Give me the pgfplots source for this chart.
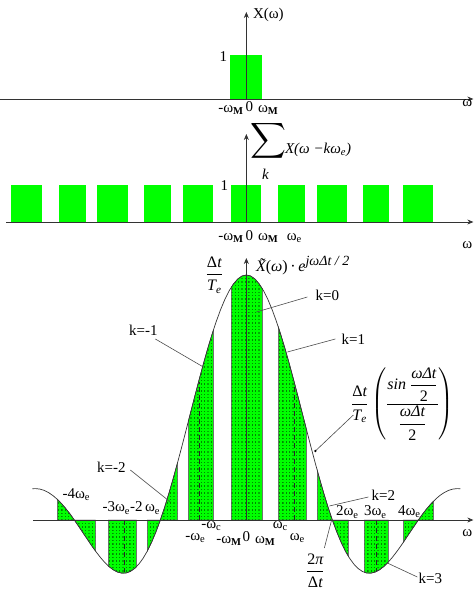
\documentclass[border=0pt]{standalone}
\usepackage{fontspec}
\setmainfont{Liberation Serif}
\usepackage{amsmath}
\usepackage{pgfplots}
\pgfplotsset{compat=1.18}
\usetikzlibrary{patterns,arrows.meta}

\definecolor{specgreen}{RGB}{0,255,0}
\definecolor{dotgreen}{RGB}{0,135,0}
\newcommand{\wM}{ω\textsubscript{\textbf{M}}}
\newcommand{\we}{ω\textsubscript{e}}

% small square dots on a regular grid
\pgfdeclarepatternformonly{sqdots}{\pgfqpoint{0pt}{0pt}}{\pgfqpoint{1.3pt}{1.3pt}}{\pgfqpoint{3.4pt}{3.4pt}}{%
  \pgfpathrectangle{\pgfqpoint{0pt}{0pt}}{\pgfqpoint{1.3pt}{1.3pt}}\pgfusepath{fill}}

\pgfplotsset{
  panel/.style={x=1pt, y=1pt, hide axis, clip=false, anchor=origin,
    enlargelimits=false, xmin=-246, xmax=229},
  axisline/.style={black!80, line width=0.7pt, -{Stealth[length=6pt,width=5pt]}},
  band/.style={fill=specgreen, draw=none},
  strip/.style={fill=specgreen, draw=black!60, line width=0.4pt,
    postaction={pattern=sqdots, pattern color=dotgreen}},
  vdash/.style={black!85, line width=0.7pt, dash pattern=on 5pt off 3pt},
}

\begin{document}
\begin{tikzpicture}[font=\fontsize{15}{17}\selectfont, every node/.style={inner sep=0.5pt}]
\path (0,0) rectangle (475pt,-599pt);

% ---------- spectrum of the band-limited signal ----------
\begin{axis}[panel, at={(246pt,-99pt)}, ymin=0, ymax=90]
  \addplot[band] coordinates {(-16,0) (-16,44) (16,44) (16,0)} -- cycle;
  \addplot[axisline] coordinates {(-246,0) (227,0)};
  \addplot[axisline] coordinates {(0,0) (0,87)};
\end{axis}

% ---------- periodised spectrum ----------
\begin{axis}[panel, at={(246pt,-222pt)}, ymin=0, ymax=90]
  \addplot[band] coordinates {(-235,0) (-235,37) (-204,37) (-204,0)} -- cycle;
  \addplot[band] coordinates {(-187,0) (-187,37) (-160,37) (-160,0)} -- cycle;
  \addplot[band] coordinates {(-149,0) (-149,37) (-118,37) (-118,0)} -- cycle;
  \addplot[band] coordinates {(-102,0) (-102,37) (-75,37) (-75,0)} -- cycle;
  \addplot[band] coordinates {(-63,0) (-63,37) (-33,37) (-33,0)} -- cycle;
  \addplot[band] coordinates {(-15,0) (-15,37) (15,37) (15,0)} -- cycle;
  \addplot[band] coordinates {(32,0) (32,37) (59,37) (59,0)} -- cycle;
  \addplot[band] coordinates {(71,0) (71,37) (101,37) (101,0)} -- cycle;
  \addplot[band] coordinates {(117,0) (117,37) (143,37) (143,0)} -- cycle;
  \addplot[band] coordinates {(157,0) (157,37) (187,37) (187,0)} -- cycle;
  \addplot[axisline] coordinates {(-240,0) (227,0)};
  \addplot[axisline] coordinates {(0,0) (0,88)};
\end{axis}

% ---------- sinc envelope with sampled bands ----------
\begin{axis}[panel, at={(246pt,-520pt)}, ymin=-60, ymax=265]
  % bands cut out under the envelope
  \addplot[strip] coordinates {(-189,0) (-189,20.7) (-184.9,16.5) (-180.6,11.5)
    (-176.3,6.0) (-172,0) (-167.7,-6.3) (-163.4,-12.7) (-159.1,-19.1)
    (-154.8,-25.5) (-151,-30.8) (-151,0)} -- cycle;
  \addplot[strip] coordinates {(-138,0) (-138,-46.0) (-133.3,-49.7) (-129,-52.0)
    (-124.7,-53.1) (-120.4,-53.0) (-116.1,-51.5) (-111.8,-48.5) (-110,-46.9)
    (-110,0)} -- cycle;
  \addplot[strip] coordinates {(-99,0) (-99,-31.0) (-94.6,-21.9) (-90.3,-11.6)
    (-86,0) (-81.7,12.8) (-77.4,26.8) (-73.1,41.7) (-69,56.6) (-69,0)} -- cycle;
  \addplot[strip] coordinates {(-58,0) (-58,98.7) (-55.9,106.9) (-51.6,123.6)
    (-47.3,140.0) (-43,156.0) (-38.7,171.2) (-34.4,185.4) (-33,189.8)
    (-33,0)} -- cycle;
  \addplot[strip] coordinates {(-15,0) (-15,232.9) (-12.9,236.0) (-8.6,241.0)
    (-4.3,244.0) (0,245) (4.3,244.0) (8.6,241.0) (12.9,236.0) (16,231.3)
    (16,0)} -- cycle;
  \addplot[strip] coordinates {(32,0) (32,192.9) (34.4,185.4) (38.7,171.2)
    (43,156.0) (47.3,140.0) (51.6,123.6) (55.9,106.9) (60,90.9) (60,0)} -- cycle;
  \addplot[strip] coordinates {(71,0) (71,49.2) (73.1,41.7) (77.4,26.8)
    (81.7,12.8) (86,0) (90.3,-11.6) (94.6,-21.9) (98.9,-30.8) (102,-36.3)
    (102,0)} -- cycle;
  \addplot[strip] coordinates {(118,0) (118,-52.3) (120.4,-53.0) (124.7,-53.1)
    (129,-52.0) (133.3,-49.7) (137.6,-46.4) (142,-42.0) (142,0)} -- cycle;
  \addplot[strip] coordinates {(157,0) (157,-22.3) (159.1,-19.1) (163.4,-12.7)
    (167.7,-6.3) (172,0) (176.3,6.0) (180.6,11.5) (184.9,16.5) (187,18.7)
    (187,0)} -- cycle;
  % centres of the shifted copies
  \addplot[vdash] coordinates {(-122,0) (-122,-52)};
  \addplot[vdash] coordinates {(-47,0) (-47,138)};
  \addplot[vdash] coordinates {(48,0) (48,136)};
  \addplot[vdash] coordinates {(130,0) (130,-51)};
  % envelope
  \addplot[black!80, line width=0.7pt] coordinates {
    (-214,31.3) (-210.7,31.4) (-206.4,30.9) (-202.1,29.6) (-197.8,27.4)
    (-193.5,24.5) (-189.2,20.8) (-184.9,16.5) (-180.6,11.5) (-176.3,6.0)
    (-172,0) (-167.7,-6.3) (-163.4,-12.7) (-159.1,-19.1) (-154.8,-25.5)
    (-150.5,-31.5) (-146.2,-37.1) (-141.9,-42.1) (-137.6,-46.4) (-133.3,-49.7)
    (-129,-52.0) (-124.7,-53.1) (-120.4,-53.0) (-116.1,-51.5) (-111.8,-48.5)
    (-107.5,-44.1) (-103.2,-38.2) (-98.9,-30.8) (-94.6,-21.9) (-90.3,-11.6)
    (-86,0) (-81.7,12.8) (-77.4,26.8) (-73.1,41.7) (-68.8,57.3)
    (-64.5,73.5) (-60.2,90.1) (-55.9,106.9) (-51.6,123.6) (-47.3,140.0)
    (-43,156.0) (-38.7,171.2) (-34.4,185.4) (-30.1,198.5) (-25.8,210.3)
    (-21.5,220.6) (-17.2,229.2) (-12.9,236.0) (-8.6,241.0) (-4.3,244.0)
    (0,245)
    (4.3,244.0) (8.6,241.0) (12.9,236.0) (17.2,229.2) (21.5,220.6)
    (25.8,210.3) (30.1,198.5) (34.4,185.4) (38.7,171.2) (43,156.0)
    (47.3,140.0) (51.6,123.6) (55.9,106.9) (60.2,90.1) (64.5,73.5)
    (68.8,57.3) (73.1,41.7) (77.4,26.8) (81.7,12.8) (86,0)
    (90.3,-11.6) (94.6,-21.9) (98.9,-30.8) (103.2,-38.2) (107.5,-44.1)
    (111.8,-48.5) (116.1,-51.5) (120.4,-53.0) (124.7,-53.1) (129,-52.0)
    (133.3,-49.7) (137.6,-46.4) (141.9,-42.1) (146.2,-37.1) (150.5,-31.5)
    (154.8,-25.5) (159.1,-19.1) (163.4,-12.7) (167.7,-6.3) (172,0)
    (176.3,6.0) (180.6,11.5) (184.9,16.5) (189.2,20.8) (193.5,24.5)
    (197.8,27.4) (202.1,29.6) (206.4,30.9) (210.7,31.4) (214,31.3)
  };
  \addplot[axisline] coordinates {(-213,0) (227,0)};
  \addplot[axisline] coordinates {(0,0) (0,262)};
\end{axis}

% ---------- labels and leaders ----------
\begin{scope}[x=1pt, y=-1pt]
  % top panel
  \node at (268,15) {X(ω)};
  \node at (223,57) {1};
  \node[anchor=east] at (244,110) {-\wM};
  \node at (249,107) {0};
  \node[anchor=west] at (257,110) {\wM};
  \node at (467,103) {ω};
  % middle panel
  \node at (224,186) {1};
  \node at (268,141) {\fontsize{26}{26}\selectfont$\displaystyle\sum$};
  \node[anchor=west] at (284,150) {\itshape X(ω −kω\textsubscript{e})};
  \node at (265,174) {\itshape k};
  \node[anchor=east] at (244,238) {-\wM};
  \node at (249,236) {0};
  \node[anchor=west] at (257,238) {\wM};
  \node at (294,238) {\we};
  \node at (467,245) {ω};
  % bottom panel
  \node at (214,275) {\fontsize{16}{18}\selectfont$\dfrac{\mbox{Δ\itshape t}}{\mbox{\itshape T\textsubscript{e}}}$};
  \node[anchor=west] at (255,266) {\fontsize{16}{18}\selectfont{\itshape \~{X}}(\textit{ω})\,·\,\textit{e}\raisebox{6pt}{\fontsize{14}{14}\selectfont\itshape jωΔt / 2}};
  \node at (327,295) {k=0};
  \draw[black!70, line width=0.6pt] (307,297) -- (256,312);
  \node at (353,339) {k=1};
  \draw[black!70, line width=0.6pt] (335,339) -- (287,352);
  \node at (143,330) {k=-1};
  \draw[black!70, line width=0.6pt] (155,339) -- (203,367);
  \node at (111,467) {k=-2};
  \draw[black!70, line width=0.6pt] (130,470) -- (170,502);
  \node at (383,495) {k=2};
  \draw[black!70, line width=0.6pt] (368,497) -- (329,506);
  \node at (430,578) {k=3};
  \draw[black!70, line width=0.6pt] (417,577) -- (387,563);
  \node[anchor=west] at (350,404) {\fontsize{16}{18}\selectfont$\dfrac{\mbox{Δ\itshape t}}{\mbox{\itshape T\textsubscript{e}}}\left(\dfrac{\mbox{\itshape sin}\ \dfrac{\mbox{\itshape ωΔt}}{\mbox{2}}}{\dfrac{\mbox{\itshape ωΔt}}{\mbox{2}}}\right)$};
  \draw[black!70, line width=0.6pt] (353,415) -- (315,451);
  \fill[black] (315,451) circle (1.3);
  \node at (315,571) {\fontsize{16}{18}\selectfont$\dfrac{\mbox{2\itshape π}}{\mbox{Δ\itshape t}}$};
  \draw[black!70, line width=0.6pt] (324,548) -- (331,521);
  \node at (76,495) {-4\we};
  \node at (131,508) {-3\we-2\,\we};
  \node at (347,512) {2\we};
  \node at (375,512) {3\we};
  \node at (409,512) {4\we};
  \node at (195,538) {-\we};
  \node at (211,526) {-ω\textsubscript{c}};
  \node[anchor=east] at (242,541) {-\wM};
  \node at (246,537) {0};
  \node[anchor=west] at (254,541) {\wM};
  \node at (280,526) {ω\textsubscript{c}};
  \node at (297,538) {\we};
  \node at (467,533) {ω};
\end{scope}
\end{tikzpicture}
\end{document}
